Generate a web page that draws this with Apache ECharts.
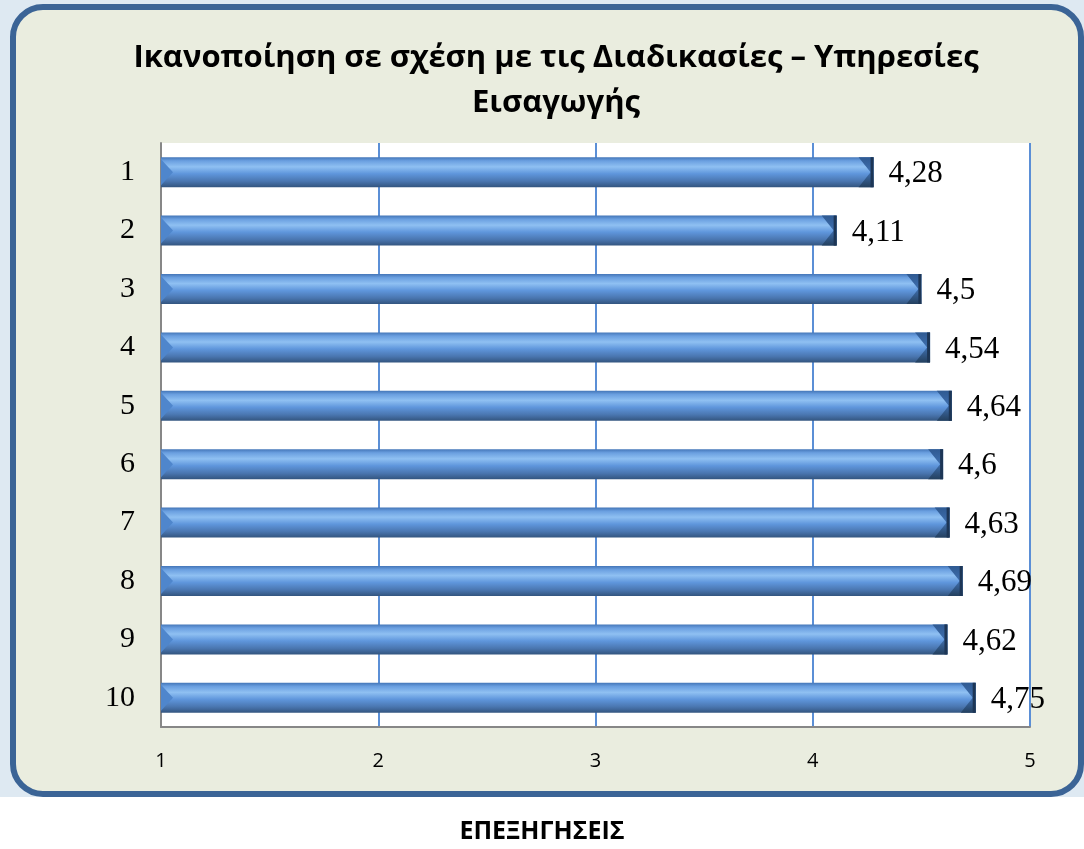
<!DOCTYPE html>
<html>
<head>
<meta charset="utf-8">
<title>Ικανοποίηση σε σχέση με τις Διαδικασίες – Υπηρεσίες Εισαγωγής</title>
<script src="https://cdn.jsdelivr.net/npm/echarts@6/dist/echarts.min.js"></script>
<style>
  html, body { margin: 0; padding: 0; background: #fff; }
  #chart { width: 1084px; height: 849px; }
</style>
</head>
<body>
<div id="chart"></div>
<script>
// δεδομένα του γραφήματος
const categories = ['1', '2', '3', '4', '5', '6', '7', '8', '9', '10'];
const scores = [4.28, 4.11, 4.5, 4.54, 4.64, 4.6, 4.63, 4.69, 4.62, 4.75];
const xTicks = [1, 2, 3, 4, 5];
const titleLines = ['Ικανοποίηση σε σχέση με τις Διαδικασίες – Υπηρεσίες', 'Εισαγωγής'];
const footnote = 'ΕΠΕΞΗΓΗΣΕΙΣ';

const chart = echarts.init(document.getElementById('chart'), null, { renderer: 'canvas' });

const BAR_H = 30;

// γυαλιστερή μπάρα: κατακόρυφη διαβάθμιση
const barFill = new echarts.graphic.LinearGradient(0, 0, 0, 1, [
  { offset: 0, color: '#4476b8' },
  { offset: 0.12, color: '#6a9fe0' },
  { offset: 0.32, color: '#8fc0f2' },
  { offset: 0.55, color: '#5f96dc' },
  { offset: 0.8, color: '#4a76b0' },
  { offset: 1, color: '#33557f' }
]);
const capFill = new echarts.graphic.LinearGradient(0, 0, 0, 1, [
  { offset: 0, color: '#2f5a92' },
  { offset: 0.5, color: '#3f6fae' },
  { offset: 1, color: '#24405f' }
]);

// άκρα της μπάρας (λοξότμηση) μέσω των αξόνων
function renderCaps(params, api) {
  const cat = api.value(1);
  const start = api.coord([xTicks[0], cat]);
  const end = api.coord([api.value(0), cat]);
  const top = end[1] - BAR_H / 2;
  const bot = end[1] + BAR_H / 2;
  const x1 = end[0];
  const x0 = start[0];
  return {
    type: 'group',
    children: [
      {
        type: 'polygon',
        shape: { points: [[x1 - 15, top], [x1, top], [x1, bot], [x1 - 15, bot], [x1 - 3, end[1]]] },
        style: { fill: capFill }
      },
      {
        type: 'rect',
        shape: { x: x1 - 3, y: top, width: 3, height: BAR_H },
        style: { fill: '#1d3656' }
      },
      {
        type: 'polygon',
        shape: { points: [[x0, top + 2], [x0 + 12, end[1]], [x0, bot - 2]] },
        style: { fill: '#4f86cc' }
      }
    ]
  };
}

const option = {
  backgroundColor: '#ffffff',
  animation: false,
  graphic: [
    {
      type: 'rect', z: -10, silent: true,
      shape: { x: 0, y: 0, width: 1084, height: 797 },
      style: { fill: '#dee9f2' }
    },
    {
      type: 'rect', z: -9, silent: true,
      shape: { x: 13, y: 7, width: 1068, height: 787, r: 30 },
      style: { fill: '#eaeddf', stroke: '#3b6496', lineWidth: 6 }
    },
    {
      type: 'text', left: 'center', top: 819,
      style: {
        text: footnote, fill: '#000',
        font: 'bold 25px "Open Sans", "Liberation Sans", sans-serif'
      }
    }
  ],
  title: {
    text: titleLines.join('\n'),
    left: 551, top: 31, textAlign: 'center',
    textStyle: {
      fontFamily: '"Open Sans", "Liberation Sans", sans-serif',
      fontWeight: 'bold', fontSize: 31, lineHeight: 45, color: '#000'
    }
  },
  grid: {
    left: 161, right: 54, top: 143, bottom: 122,
    show: true, backgroundColor: '#ffffff', borderWidth: 0
  },
  xAxis: {
    type: 'value', min: 1, max: 5, interval: 1,
    axisLine: { show: true, lineStyle: { color: '#878787', width: 2 } },
    axisTick: { show: false },
    axisLabel: {
      margin: 24, color: '#000', fontSize: 20,
      fontFamily: '"Open Sans", "Liberation Sans", sans-serif'
    },
    splitLine: { show: true, lineStyle: { color: '#5b8fd6', width: 2 } }
  },
  yAxis: {
    type: 'category', data: categories, inverse: true,
    axisLine: { show: true, lineStyle: { color: '#878787', width: 2 } },
    axisTick: { show: false },
    axisLabel: {
      margin: 26, color: '#000', fontSize: 30,
      fontFamily: '"Liberation Serif", "DejaVu Serif", serif'
    }
  },
  series: [
    {
      type: 'bar',
      data: scores,
      barWidth: BAR_H,
      itemStyle: { color: barFill },
      label: {
        show: true, position: 'right', distance: 15, offset: [0, 2],
        color: '#000', fontSize: 31,
        fontFamily: '"Liberation Serif", "DejaVu Serif", serif',
        formatter: (p) => String(p.value).replace('.', ',')
      },
      z: 2
    },
    {
      type: 'custom',
      renderItem: renderCaps,
      data: scores.map((v, i) => [v, i]),
      encode: { x: 0, y: 1 },
      silent: true,
      z: 3
    }
  ]
};

chart.setOption(option);
</script>
</body>
</html>
